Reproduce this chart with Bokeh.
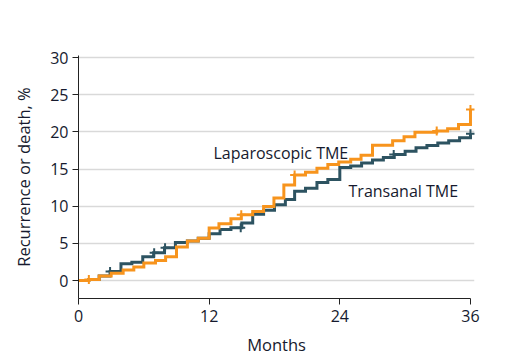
from bokeh.plotting import figure
from bokeh.models import FixedTicker, Label, Range1d
from bokeh.embed import file_html
from bokeh.resources import INLINE

# Laparoscopic TME (orange) cumulative incidence steps
lap_months = [0, 0.95, 1.9, 3.0, 4.1, 5.08, 6.0, 7.07, 8.0, 9.0, 10.0, 11.0, 12.0,
              12.9, 14.0, 14.95, 16.0, 17.0, 17.95, 18.86, 19.85, 20.85, 21.9, 22.9,
              23.9, 25.0, 25.95, 27.0, 28.85, 29.9, 30.9, 32.9, 33.9, 34.9, 36.0]
lap_pct = [0, 0.15, 0.6, 0.98, 1.4, 1.82, 2.35, 2.68, 3.2, 4.5, 5.3, 5.7, 7.05,
           7.65, 8.3, 8.85, 9.3, 9.95, 11.1, 12.85, 14.2, 14.55, 15.1, 15.6,
           15.95, 16.3, 16.85, 18.2, 18.8, 19.35, 19.95, 20.1, 20.4, 21.0, 23.0]
lap_cens_months = [0.95, 14.95, 19.85, 32.9, 36.0]
lap_cens_pct = [0.15, 8.85, 14.2, 20.1, 23.0]

# Transanal TME (dark teal)
tr_months = [0, 0.95, 1.9, 2.9, 3.9, 4.9, 5.9, 6.9, 7.9, 8.9, 10.0, 11.0, 12.0,
             13.0, 14.0, 15.0, 16.0, 17.0, 18.0, 19.0, 19.85, 20.85, 21.9, 22.9,
             24.0, 25.0, 26.0, 27.0, 28.0, 29.0, 30.0, 31.0, 32.0, 33.0, 34.0,
             35.0, 36.0]
tr_pct = [0, 0.15, 0.6, 1.2, 2.25, 2.45, 3.2, 3.75, 4.4, 5.1, 5.3, 5.7, 6.3,
          6.85, 7.1, 7.75, 8.9, 9.45, 10.2, 10.9, 12.0, 12.4, 13.2, 13.6,
          15.2, 15.4, 15.8, 16.2, 16.55, 16.95, 17.4, 17.85, 18.15, 18.5, 18.8,
          19.2, 19.75]
tr_cens_months = [2.9, 6.95, 7.95, 14.9, 28.95, 36.0]
tr_cens_pct = [1.2, 3.75, 4.4, 7.1, 16.95, 19.75]

x_ticks = [0, 12, 24, 36]
y_ticks = [0, 5, 10, 15, 20, 25, 30]

ORANGE = "#F7941D"
DARK = "#2D5361"
TEXT = "#161A2E"
FONT = "Open Sans"

p = figure(width=498, height=358, output_backend="svg", toolbar_location=None,
           x_range=Range1d(0, 36.37), y_range=Range1d(-2.42, 30.27),
           min_border_left=78, min_border_right=24, min_border_top=55,
           min_border_bottom=60)
p.outline_line_color = None
p.background_fill_color = "white"
p.border_fill_color = "white"

p.xgrid.visible = False
p.ygrid.grid_line_color = "#D9D9D9"
p.ygrid.grid_line_width = 1.6
p.ygrid.bounds = (0, 36)

for ax in (p.xaxis[0], p.yaxis[0]):
    ax.axis_line_color = "#222222"
    ax.axis_line_width = 1
    ax.major_tick_line_color = "#222222"
    ax.major_tick_line_width = 1
    ax.major_tick_in = 0
    ax.major_tick_out = 6
    ax.minor_tick_line_color = None
    ax.major_label_text_font = FONT
    ax.major_label_text_font_size = "16px"
    ax.major_label_text_color = TEXT
    ax.axis_label_text_font = FONT
    ax.axis_label_text_font_size = "16.5px"
    ax.axis_label_text_font_style = "normal"
    ax.axis_label_text_color = TEXT

p.xaxis.ticker = FixedTicker(ticks=x_ticks)
p.xaxis.bounds = (0, 36)
p.xaxis.axis_label = "Months"
p.xaxis.major_label_standoff = 5
p.xaxis.axis_label_standoff = 8

p.yaxis.ticker = FixedTicker(ticks=y_ticks)
p.yaxis.axis_label = "Recurrence or death, %"
p.yaxis.major_label_standoff = 4
p.yaxis.axis_label_standoff = 12

p.step(tr_months, tr_pct, mode="after", line_color=DARK, line_width=3,
       line_join="miter")
p.scatter(tr_cens_months, tr_cens_pct, marker="cross", size=9,
          line_color=DARK, line_width=2)
p.step(lap_months, lap_pct, mode="after", line_color=ORANGE, line_width=3,
       line_join="miter")
p.scatter(lap_cens_months, lap_cens_pct, marker="cross", size=9,
          line_color=ORANGE, line_width=2)

p.add_layout(Label(x=12.4, y=17.2, text="Laparoscopic TME", text_font=FONT,
                   text_font_size="16px", text_color=TEXT,
                   text_baseline="alphabetic"))
p.add_layout(Label(x=24.8, y=12.1, text="Transanal TME", text_font=FONT,
                   text_font_size="16px", text_color=TEXT,
                   text_baseline="alphabetic"))

open("out.html", "w").write(file_html(p, INLINE))
